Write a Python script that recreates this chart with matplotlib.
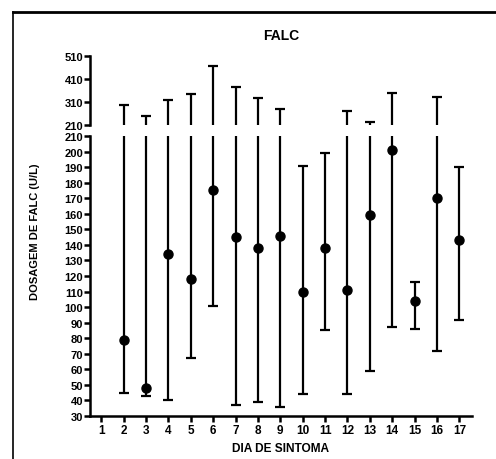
import numpy as np
import matplotlib.pyplot as plt
from matplotlib.lines import Line2D

plt.rcParams['font.family'] = ['Liberation Sans', 'DejaVu Sans']
plt.rcParams['font.weight'] = 'bold'

days = [2, 3, 4, 5, 6, 7, 8, 9, 10, 11, 12, 13, 14, 15, 16, 17]
falc_mean = [79, 48, 134, 118, 175, 145, 138, 145.5, 110, 138, 111, 159, 201, 104, 170, 143]
falc_min = [45, 43, 40, 67, 101, 37, 39, 36, 44, 85, 44, 59, 87, 86, 72, 92]
falc_max = [297, 248, 320, 345, 468, 377, 326, 280, 191, 199, 272, 222, 348, 116, 333, 190]

top_ticks = [210, 310, 410, 510]
low_ticks = list(range(30, 211, 10))
day_ticks = list(range(1, 18))

mean = np.array(falc_mean)
yerr = [mean - np.array(falc_min), np.array(falc_max) - mean]

fig = plt.figure(figsize=(4.96, 4.60), dpi=100)
ax_top = fig.add_axes([0.1815, 0.726, 0.7696, 0.150])
ax_low = fig.add_axes([0.1815, 0.0935, 0.7696, 0.6087])

# broken axis: upper part only shows the tops of the ranges
for ax, fmt in ((ax_top, 'none'), (ax_low, 'o')):
    ax.errorbar(days, mean, yerr=yerr, fmt=fmt, color='black', ecolor='black',
                ms=6.5, elinewidth=1.6, capsize=3.4, capthick=1.6)
    ax.set_xlim(0.5, 17.55)
    for s in ('top', 'right'):
        ax.spines[s].set_visible(False)
    ax.spines['left'].set_linewidth(1.8)
    ax.spines['bottom'].set_linewidth(1.8)
    ax.tick_params(axis='y', width=1.8, length=4, pad=1, labelsize=8)
    ax.tick_params(axis='x', width=1.8, length=4, pad=2, labelsize=8.5)

ax_top.set_ylim(210, 510)
ax_top.set_yticks(top_ticks)
ax_top.spines['bottom'].set_visible(False)
ax_top.set_xticks([])

ax_low.set_ylim(30, 210)
ax_low.set_yticks(low_ticks)
ax_low.set_xticks(day_ticks)

ax_top.set_title('FALC', fontsize=10, fontweight='bold', pad=12)
ax_low.set_xlabel('DIA DE SINTOMA', fontsize=8.6, fontweight='bold', labelpad=4)
fig.text(0.071, 0.496, 'DOSAGEM DE FALC (U/L)', rotation=90, fontsize=8,
         fontweight='bold', ha='center', va='center')

# frame around the panel
fig.add_artist(Line2D([13 / 496, 13 / 496], [0, 1 - 12.5 / 460], color='black', lw=1.2))
fig.add_artist(Line2D([13 / 496, 1], [1 - 12.5 / 460, 1 - 12.5 / 460], color='black', lw=2))

fig.savefig('out.png', dpi=100)
